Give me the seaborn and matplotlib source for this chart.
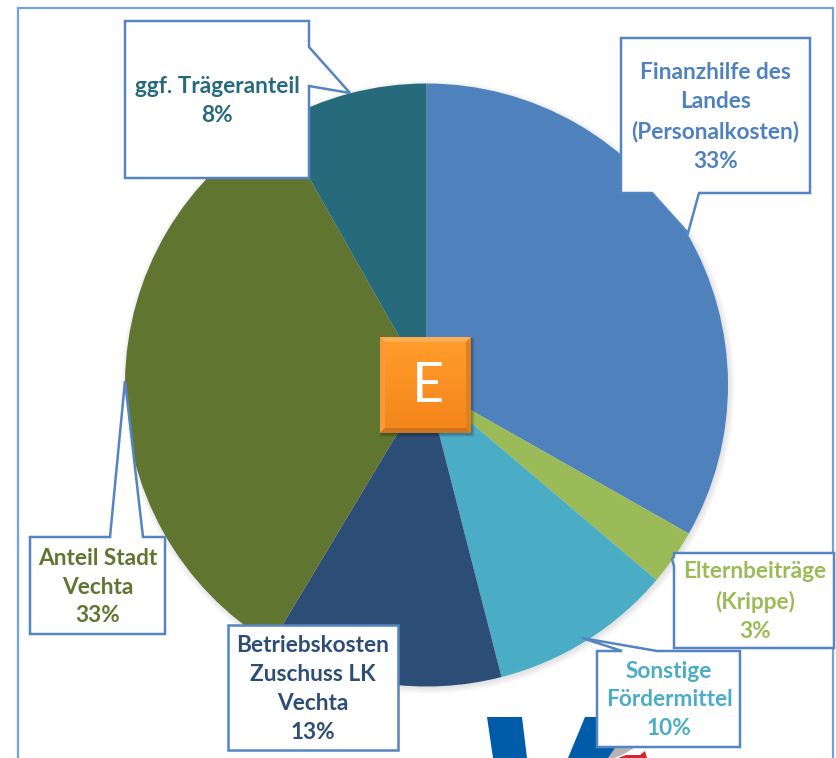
import numpy as np
import matplotlib
matplotlib.use("Agg")
import matplotlib.pyplot as plt
from matplotlib.patches import Polygon, Rectangle, Circle
import seaborn as sns

categories = ["Finanzhilfe des\nLandes\n(Personalkosten)", "Elternbeiträge\n(Krippe)",
              "Sonstige\nFördermittel", "Betriebskosten\nZuschuss LK\nVechta",
              "Anteil Stadt\nVechta", "ggf. Trägeranteil"]
shares = [33.2, 3.0, 9.8, 12.6, 33.2, 8.2]
colors = ["#4F81BD", "#9BBB59", "#4BACC6", "#2C4D75", "#5F7530", "#276A7C"]

W, H = 837, 758
sns.set_theme(style="white")
plt.rcParams["font.family"] = ["Lato", "DejaVu Sans"]
palette = sns.color_palette(colors)

fig = plt.figure(figsize=(W / 100, H / 100), dpi=100, facecolor="white")
ax = fig.add_axes([0, 0, 1, 1])


def P(*pts):
    return [(x, H - y) for x, y in pts]


# soft shadow behind the pie
for i in range(7):
    ax.add_patch(Circle((428, H - 387), 307 - i, color="#000000", alpha=0.016, lw=0, zorder=1))

# page frame
ax.add_patch(Polygon(P((18, 770), (18, 7.5), (833.5, 7.5), (833.5, 770)), closed=False, fill=False,
                     ec="#6FA5DE", lw=1.6, zorder=1))

# logo fragment behind the boxes
ax.add_patch(Polygon(P((487, 717), (522, 717), (527, 758), (493, 758)), fc="#005CA9", lw=0, zorder=1))
ax.add_patch(Polygon(P((585, 717), (625, 717), (625, 745), (608, 758), (568, 758)), fc="#005CA9", lw=0, zorder=1))
ax.add_patch(Polygon(P((608, 758), (615, 748), (634, 748), (622, 755), (614, 758)), fc="#B4B4B4", lw=0, zorder=1))
ax.add_patch(Polygon(P((618, 758), (626, 755), (640, 755), (645, 751), (647, 758)), fc="#D8232A", lw=0, zorder=1))

wedges, _ = ax.pie(shares, colors=palette, startangle=90, counterclock=False,
                   center=(426.5, H - 385), radius=301.5, frame=True,
                   wedgeprops={"linewidth": 0, "zorder": 2})

# box corners, outline points of the pointer, text centre
boxes = [
    ((621, 38), (810, 193), "bottom", [(699, 193), (688, 233), (652, 193)], (715.5, 117)),
    ((674, 553), (834, 648), "left", [(674, 566), (672, 559), (674, 557)], (755, 601.5)),
    ((597, 651), (740, 747), "top", [(622, 651), (582, 638), (657, 651)], (669, 700)),
    ((228, 625), (398, 750), "", [], (313, 689)),
    ((30, 537), (165, 634), "top", [(110, 537), (125, 381), (143, 537)], (98, 587)),
    ((125, 21), (309, 178), "right", [(309, 47), (350, 93), (309, 86)], (217, 101)),
]

for (cat, share, col, (tl, br, side, tail, tc)) in zip(categories, shares, colors, boxes):
    x0, y0 = tl
    x1, y1 = br
    pts = [(x0, y0)]
    if side == "top":
        pts += tail
    pts.append((x1, y0))
    if side == "right":
        pts += tail
    pts.append((x1, y1))
    if side == "bottom":
        pts += tail
    pts.append((x0, y1))
    if side == "left":
        pts += tail
    ax.add_patch(Polygon(P(*pts), closed=True, fc="white", ec="#5585C0", lw=1.8, joinstyle="miter", zorder=4))
    ax.text(tc[0], H - tc[1], f"{cat}\n{round(share)}%", color=col, ha="center", va="center",
            fontsize=16.3, fontweight="bold", linespacing=1.47, zorder=5)

# centre tile "E"
bx0, by0, bx1, by1 = 380, 337, 471, 433
for i in range(5):
    ax.add_patch(Rectangle((bx0 + 1 - i * 0.3, H - by1 - 1 - i * 0.8), bx1 - bx0 + i, by1 - by0 + 2 * i * 0.4,
                           fc="#000000", alpha=0.06, lw=0, zorder=5))
grad = np.linspace(0, 1, 64)[:, None]
cmap = matplotlib.colors.LinearSegmentedColormap.from_list("o", ["#FF9E2C", "#FB9024", "#F2851B"])
ax.imshow(grad, cmap=cmap, extent=(bx0, bx1, H - by1, H - by0), aspect="auto", zorder=6, interpolation="bilinear")
b = 5
ax.add_patch(Polygon(P((bx0, by0), (bx1, by0), (bx1 - b, by0 + b), (bx0 + b, by0 + b)), fc="#FDAE55", lw=0, zorder=7))
ax.add_patch(Polygon(P((bx0, by0), (bx0 + b, by0 + b), (bx0 + b, by1 - b), (bx0, by1)), fc="#F8993A", lw=0, zorder=7))
ax.add_patch(Polygon(P((bx1, by0), (bx1 - b, by0 + b), (bx1 - b, by1 - b), (bx1, by1)), fc="#E0801F", lw=0, zorder=7))
ax.add_patch(Polygon(P((bx0, by1), (bx0 + b, by1 - b), (bx1 - b, by1 - b), (bx1, by1)), fc="#CC7420", lw=0, zorder=7))
ax.text(427.5, H - 387, "E", color="white", ha="center", va="center", fontsize=40, fontweight="normal", zorder=8)

ax.set_xlim(0, W)
ax.set_ylim(0, H)
ax.set_aspect("auto")
ax.axis("off")
fig.savefig("out.png", dpi=100, facecolor="white")
